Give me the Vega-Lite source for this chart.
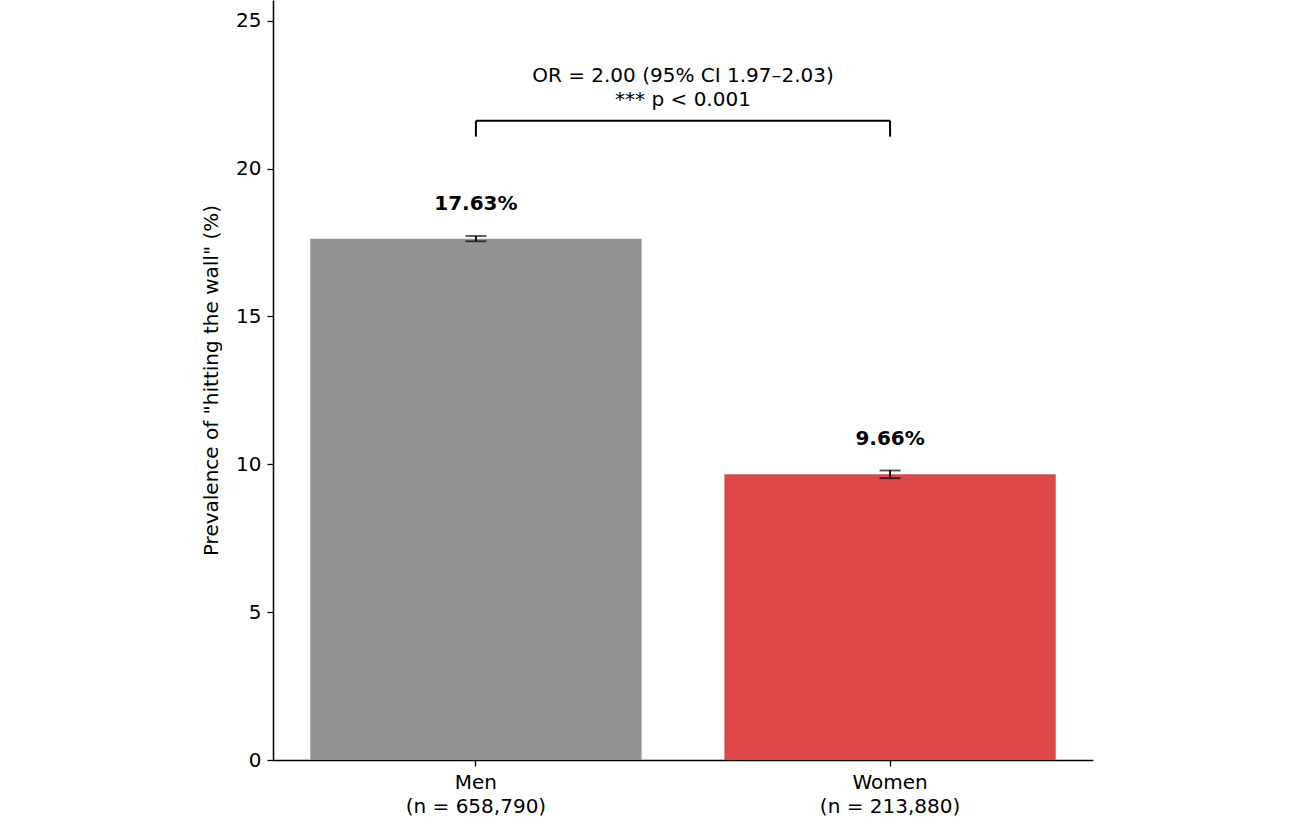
{
  "$schema": "https://vega.github.io/schema/vega-lite/v6.json",
  "width": 820,
  "height": 760,
  "autosize": {"type": "none"},
  "padding": {"left": 273, "top": 0, "right": 207, "bottom": 57},
  "background": "white",
  "config": {
    "view": {"stroke": null},
    "font": "DejaVu Sans",
    "axis": {
      "grid": false,
      "domainColor": "black",
      "domainWidth": 1.5,
      "tickColor": "black",
      "tickWidth": 1.3,
      "tickSize": 6,
      "labelFont": "DejaVu Sans",
      "labelFontSize": 20,
      "labelColor": "black",
      "titleFont": "DejaVu Sans",
      "titleFontSize": 20,
      "titleFontWeight": "normal",
      "titleColor": "black"
    }
  },
  "datasets": {
    "groups": [
      {"group": "Men|(n = 658,790)", "prevalence": 17.63, "ci_low": 17.54, "ci_high": 17.72, "label": "17.63%"},
      {"group": "Women|(n = 213,880)", "prevalence": 9.66, "ci_low": 9.53, "ci_high": 9.79, "label": "9.66%"}
    ],
    "bracket_legs": [
      {"group": "Men|(n = 658,790)", "low": 21.08, "high": 21.62},
      {"group": "Women|(n = 213,880)", "low": 21.08, "high": 21.62}
    ],
    "bracket_bar": [
      {"from": "Men|(n = 658,790)", "to": "Women|(n = 213,880)", "level": 21.62}
    ],
    "note": [
      {"level": 21.62, "text": ["OR = 2.00 (95% CI 1.97–2.03)", "*** p < 0.001"]}
    ]
  },
  "layer": [
    {
      "data": {"name": "groups"},
      "mark": {"type": "bar"},
      "encoding": {
        "x": {
          "field": "group",
          "type": "nominal",
          "sort": null,
          "scale": {"paddingInner": 0.2, "paddingOuter": 0.09},
          "axis": {
            "title": null,
            "labelAngle": 0,
            "labelExpr": "split(datum.label, '|')",
            "labelPadding": 6,
            "labelLineHeight": 24
          }
        },
        "y": {
          "field": "prevalence",
          "type": "quantitative",
          "scale": {"domain": [0, 25.7], "nice": false},
          "axis": {
            "title": "Prevalence of \"hitting the wall\" (%)",
            "values": [0, 5, 10, 15, 20, 25],
            "titlePadding": 14,
            "labelPadding": 6
          }
        },
        "color": {
          "field": "group",
          "type": "nominal",
          "scale": {"range": ["#929292", "#DC4748"]},
          "legend": null
        }
      }
    },
    {
      "data": {"name": "groups"},
      "mark": {"type": "rule", "color": "black", "strokeWidth": 1.8},
      "encoding": {
        "x": {"field": "group", "type": "nominal", "sort": null},
        "y": {"field": "ci_low", "type": "quantitative"},
        "y2": {"field": "ci_high"}
      }
    },
    {
      "data": {"name": "groups"},
      "mark": {"type": "tick", "color": "black", "thickness": 1.8, "size": 21, "orient": "horizontal"},
      "encoding": {
        "x": {"field": "group", "type": "nominal", "sort": null},
        "y": {"field": "ci_low", "type": "quantitative"}
      }
    },
    {
      "data": {"name": "groups"},
      "mark": {"type": "tick", "color": "black", "thickness": 1.8, "size": 21, "orient": "horizontal"},
      "encoding": {
        "x": {"field": "group", "type": "nominal", "sort": null},
        "y": {"field": "ci_high", "type": "quantitative"}
      }
    },
    {
      "data": {"name": "groups"},
      "mark": {"type": "text", "fontWeight": "bold", "fontSize": 20, "color": "black", "baseline": "middle", "dy": -35},
      "encoding": {
        "x": {"field": "group", "type": "nominal", "sort": null},
        "y": {"field": "prevalence", "type": "quantitative"},
        "text": {"field": "label"}
      }
    },
    {
      "data": {"name": "bracket_legs"},
      "mark": {"type": "rule", "color": "black", "strokeWidth": 2},
      "encoding": {
        "x": {"field": "group", "type": "nominal", "sort": null},
        "y": {"field": "low", "type": "quantitative"},
        "y2": {"field": "high"}
      }
    },
    {
      "data": {"name": "bracket_bar"},
      "mark": {"type": "rule", "color": "black", "strokeWidth": 2},
      "encoding": {
        "x": {"field": "from", "type": "nominal", "sort": null},
        "x2": {"field": "to"},
        "y": {"field": "level", "type": "quantitative"}
      }
    },
    {
      "data": {"name": "note"},
      "mark": {"type": "text", "fontSize": 20, "color": "black", "baseline": "bottom", "lineHeight": 24, "dy": -35},
      "encoding": {
        "y": {"field": "level", "type": "quantitative"},
        "text": {"field": "text"}
      }
    }
  ]
}
